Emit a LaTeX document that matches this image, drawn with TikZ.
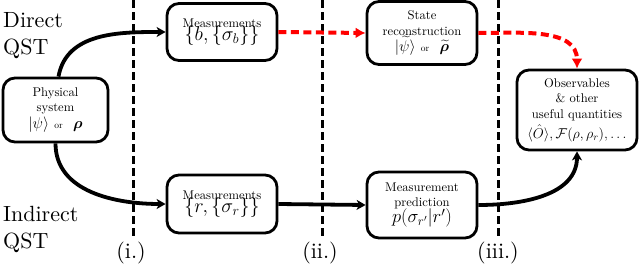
\documentclass[tikz,border=0pt]{standalone}
\usepackage{fix-cm}
\usepackage{amsmath,bm}
\usepackage{fontspec}
\setmainfont{lmroman10-regular.otf}[ItalicFont=lmroman10-italic.otf,BoldFont=lmroman10-bold.otf]
\usetikzlibrary{arrows.meta}
\newcommand{\lblf}{\fontsize{12.6}{15.5}\selectfont}
\newcommand{\mthbig}{\fontsize{20}{21}\selectfont}
\newcommand{\mthpred}{\fontsize{18.5}{20}\selectfont}
\newcommand{\mthmid}{\fontsize{15.5}{17}\selectfont}
\newcommand{\mthsm}{\fontsize{14.2}{15}\selectfont}
\newcommand{\orf}{\fontsize{9.5}{10}\selectfont}
\newcommand{\bigf}{\fontsize{22}{27}\selectfont}
\tikzset{
  box/.style={draw, line width=2.8pt, rounded corners=12pt, align=center,
    inner sep=0pt, font=\lblf},
  blk/.style={line width=3.8pt, -{Stealth[length=9pt,width=10pt,inset=2.5pt]}},
  redarr/.style={line width=4pt, red, dash pattern=on 8pt off 4.5pt,
    -{Latex[length=10pt,width=11pt]}},
  sep/.style={line width=3pt, dash pattern=on 8pt off 4pt},
  sidelbl/.style={font=\bigf, align=left, inner sep=0pt, anchor=north west},
  steplbl/.style={font=\bigf, inner sep=0pt}
}
\begin{document}
\begin{tikzpicture}[x=1pt,y=-1pt]
\useasboundingbox (0,0) rectangle (640,265);

% separators
\coordinate (s1t) at (133,0);   \coordinate (s1b) at (133,238);
\coordinate (s2t) at (322,0);   \coordinate (s2b) at (322,238);
\coordinate (s3t) at (498,0);   \coordinate (s3b) at (498,238);
\draw[sep] (s1t) -- (s1b);
\draw[sep] (s2t) -- (s2b);
\draw[sep] (s3t) -- (s3b);

\node[steplbl] (l1) at (131,253) {(i.)};
\node[steplbl] (l2) at (320,253) {(ii.)};
\node[steplbl] (l3) at (498,253) {(iii.)};

\node[sidelbl] (dir) at (3,12) {Direct\\QST};
\node[sidelbl] (ind) at (3,206) {Indirect\\QST};

% boxes
\node[box, minimum width=105pt, minimum height=64pt] (phys) at (55.5,110)
  {Physical\\system\\[1pt]{\mthmid$|\psi\rangle$ {\orf or}\ \ $\bm{\rho}$}};
\node[box, minimum width=110pt, minimum height=57pt] (meas1) at (222,32)
  {Measurements\\[-3pt]{\mthbig$\{b,\{\sigma_b\}\}$}};
\node[box, minimum width=110pt, minimum height=58pt] (meas2) at (222,204)
  {Measurements\\[-3pt]{\mthbig$\{r,\{\sigma_r\}\}$}};
\node[box, minimum width=110pt, minimum height=63pt] (state) at (422,33)
  {State\\reconstruction\\[1pt]{\mthmid$|\widetilde{\psi}\rangle$ {\orf or}\ \ $\widetilde{\bm{\rho}}$}};
\node[box, minimum width=110pt, minimum height=66pt] (pred) at (422,205)
  {Measurement\\prediction\\[-1pt]{\mthpred$p(\sigma_{r'}|r')$}};
\node[box, minimum width=120pt, minimum height=80pt] (obs) at (577,110)
  {Observables\\\& other\\useful quantities\\[3pt]{\mthsm$\langle\hat{O}\rangle,\mathcal{F}(\rho,\rho_r),\ldots$}};

% connectors
\draw[blk] ([xshift=3pt]phys.north) to[out=80,in=180] (meas1.west);
\draw[blk] (phys.south) to[out=-90,in=180] (meas2.west);
\draw[blk] (meas2.east) -- (pred.west);
\draw[redarr] (meas1.east) -- (state.west);
\draw[redarr] (state.east) to[out=0,in=90] (obs.north);
\draw[blk] (pred.east) to[out=0,in=-90] (obs.south);
\end{tikzpicture}
\end{document}
